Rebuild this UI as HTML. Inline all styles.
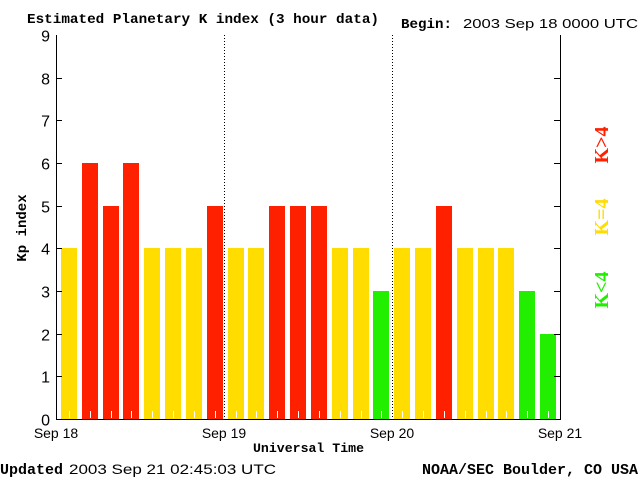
<!DOCTYPE html>
<html><head><meta charset="utf-8"><style>
body{margin:0;background:#fff;}
svg{display:block;font-family:"Liberation Serif",serif;}
</style></head><body>
<svg width="640" height="480" viewBox="0 0 640 480">
<text x="27" y="23" font-size="14" font-weight="bold" font-family="Liberation Mono,monospace" textLength="352" lengthAdjust="spacingAndGlyphs">Estimated Planetary K index (3 hour data)</text>
<text x="401" y="28" font-size="14" font-weight="bold" font-family="Liberation Mono,monospace" textLength="51" lengthAdjust="spacingAndGlyphs">Begin:</text>
<text x="463" y="28" font-size="13" font-family="Liberation Sans,sans-serif" textLength="175" lengthAdjust="spacingAndGlyphs">2003 Sep 18 0000 UTC</text>
<g id="bars"></g>
<g id="axes"></g>
<text x="0" y="0" transform="translate(26,228) rotate(-90)" text-anchor="middle" font-size="14" font-weight="bold" font-family="Liberation Mono,monospace">Kp index</text>
<text x="253" y="452" font-size="13" font-weight="bold" font-family="Liberation Mono,monospace" textLength="111" lengthAdjust="spacingAndGlyphs">Universal Time</text>
<text x="0" y="474" font-size="15" font-weight="bold" font-family="Liberation Mono,monospace" textLength="63" lengthAdjust="spacingAndGlyphs">Updated</text>
<text x="69" y="474" font-size="14" font-family="Liberation Sans,sans-serif" textLength="207" lengthAdjust="spacingAndGlyphs">2003 Sep 21 02:45:03 UTC</text>
<text x="422" y="474" font-size="15" font-weight="bold" font-family="Liberation Mono,monospace" textLength="216" lengthAdjust="spacingAndGlyphs">NOAA/SEC Boulder, CO USA</text>
<text transform="translate(608,145) rotate(-90)" text-anchor="middle" font-size="20" font-weight="bold" fill="#ff2000">K&gt;4</text>
<text transform="translate(608,217) rotate(-90)" text-anchor="middle" font-size="20" font-weight="bold" fill="#ffdd00">K=4</text>
<text transform="translate(608,290) rotate(-90)" text-anchor="middle" font-size="20" font-weight="bold" fill="#22ee00">K&lt;4</text>
</svg>
<script>
const kpValues=[4,6,5,6,4,4,4,5,4,4,5,5,5,4,4,3,4,4,5,4,4,4,3,2];
const yTicks=[0,1,2,3,4,5,6,7,8,9];
const dayLabels=["Sep 18","Sep 19","Sep 20","Sep 21"];
const NS="http://www.w3.org/2000/svg";
const L=56,R=560,T=35,B=419,YMAX=9;
const y=v=>B-(B-T)*v/YMAX;
const slot=20.83;
const x=i=>L+slot*i;
function mk(tag,attrs,parent){const e=document.createElementNS(NS,tag);for(const k in attrs)e.setAttribute(k,attrs[k]);parent.appendChild(e);return e;}
const bars=document.getElementById('bars'),axes=document.getElementById('axes');
kpValues.forEach((v,i)=>{
  const c=v>4?'#ff2000':(v==4?'#ffdd00':'#22ee00');
  const bx=Math.round(x(i)+5);
  const r=mk('rect',{x:bx,y:Math.round(y(v)),width:16,height:B-Math.round(y(v)),fill:c},bars);
  
  
  const t=mk('line',{x1:bx+8.5,x2:bx+8.5,y1:B-8,y2:B-1,stroke:'#fff','stroke-width':1},bars);
  
  
});
const frame=mk('path',{d:`M${L+.5},${T}V${B+.5}H${R+.5}V${T}`,fill:'none',stroke:'#000','stroke-width':1},axes);


yTicks.forEach(v=>{
  const yy=Math.round(y(v))+.5;
  if(v>0&&v<9){mk('line',{x1:L,x2:L+6,y1:yy,y2:yy,stroke:'#000'},axes);mk('line',{x1:R-6,x2:R,y1:yy,y2:yy,stroke:'#000'},axes);}
  const t=mk('text',{x:L-6,y:yy+6,'text-anchor':'end','font-size':16,'font-family':'Liberation Sans,sans-serif'},axes);
  t.textContent=v;
  
  
});
dayLabels.forEach((d,i)=>{
  const xx=L+(R-L)*i/3;
  if(i>0&&i<3){const l=mk('line',{x1:Math.round(xx)+.5,x2:Math.round(xx)+.5,y1:T,y2:B,stroke:'#000','stroke-dasharray':'1,2'},axes);
    
    }
  const t=mk('text',{x:xx,y:438,'text-anchor':'middle','font-size':14,'font-family':'Liberation Sans,sans-serif'},axes);
  t.textContent=d;
  
  
});
</script>
</body></html>
